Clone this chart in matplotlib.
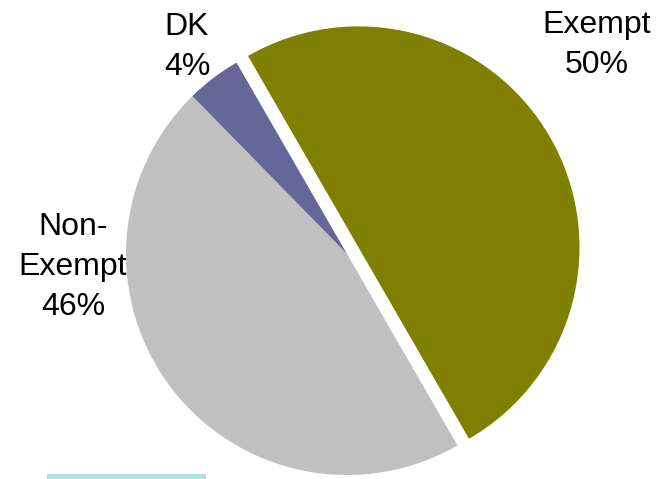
# pie chart of exempt / non-exempt split, exempt slice pulled out

import matplotlib
matplotlib.use('Agg')
import matplotlib.pyplot as plt
from matplotlib.patches import Rectangle

labels = ['Exempt', 'Non-Exempt', 'DK']
label_texts = ['Exempt\n50%', 'Non-\nExempt\n46%', 'DK\n4%']
shares = [50, 46, 4]
colors = ['#808000', '#C0C0C0', '#666699']
explode = [0.06, 0, 0]

W, H = 660, 479
# pie centre and radius in pixels
cx, cy, r = 347, 254, 221

fig = plt.figure(figsize=(W / 100, H / 100), dpi=100)
ax = fig.add_axes([0, 0, 1, 1])
ax.pie(shares, colors=colors, explode=explode, startangle=120,
       counterclock=False, wedgeprops={'linewidth': 0})
ax.set_aspect('auto')
ax.set_xlim(-cx / r, (W - cx) / r)
ax.set_ylim(-(H - cy) / r, cy / r)
ax.axis('off')

# label block centres, pixels from top-left
label_pos = [(597, 45), (73, 267), (187, 47)]
for txt, (px, py) in zip(label_texts, label_pos):
    fig.text(px / W, 1 - py / H, txt, ha='center', va='center',
             fontsize=23, family='Liberation Sans', linespacing=1.45,
             color='black')

# thin cyan bar at the bottom edge
fig.patches.append(Rectangle((47 / W, 0), 159 / W, 5 / H, transform=fig.transFigure,
                             facecolor='#B6DFE2', edgecolor='none'))

fig.savefig('out.png', dpi=100)
